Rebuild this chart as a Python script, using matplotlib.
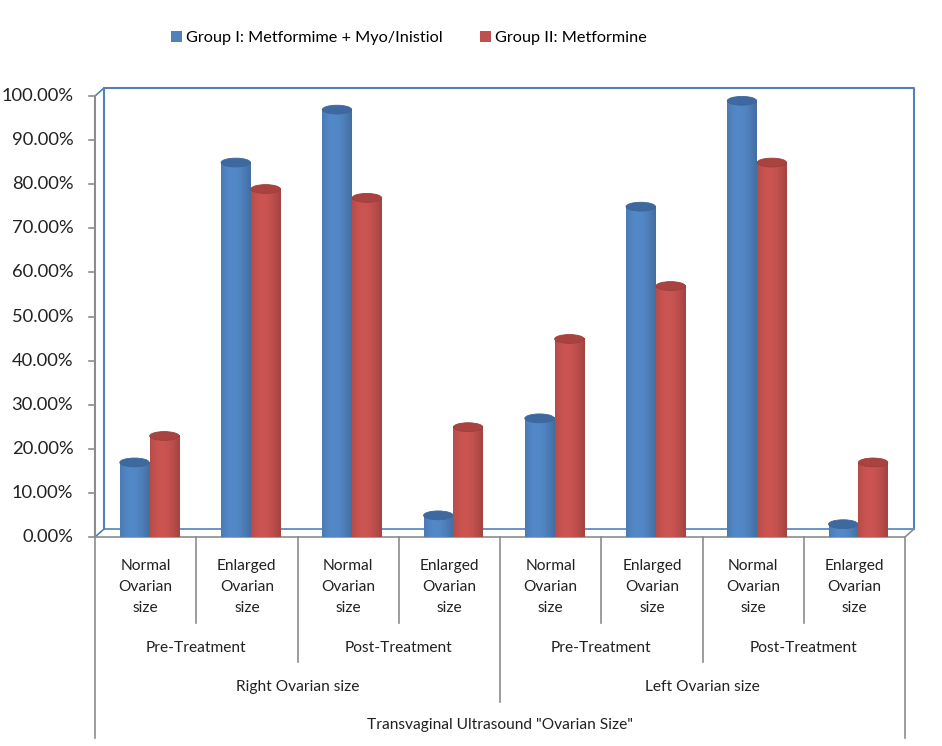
import numpy as np
import matplotlib.pyplot as plt
import matplotlib.transforms as mtransforms
from matplotlib.patches import Polygon, Ellipse, Patch
from matplotlib.lines import Line2D

plt.rcParams['font.family'] = ['Lato', 'DejaVu Sans']

# data
subcats = ['Normal\nOvarian\nsize', 'Enlarged\nOvarian\nsize'] * 4
phases = ['Pre-Treatment', 'Post-Treatment'] * 2
sides = ['Right Ovarian size', 'Left Ovarian size']
main_label = 'Transvaginal Ultrasound "Ovarian Size"'
group1 = [16, 84, 96, 4, 26, 74, 98, 2]
group2 = [22, 78, 76, 24, 44, 56, 84, 16]
series_names = ['Group I: Metformime + Myo/Inistiol', 'Group II: Metformine']
yticks = np.arange(0, 101, 10)

W, H = 942, 746
fig = plt.figure(figsize=(W / 100, H / 100), dpi=100)
ax = fig.add_axes([95 / W, 1 - 537 / H, 810 / W, 441 / H])
ax.set_xlim(0, 8)
ax.set_ylim(0, 100)
ax.axis('off')

# 3d depth offset in data units
dx = 9 / 810 * 8
dy = 8 / 441 * 100
wall = '#4F81BD'
grey = '#8C8C8C'

# back wall + floor
ax.plot([dx, dx, 8 + dx, 8 + dx], [dy, 100 + dy, 100 + dy, dy], color=wall, lw=1.5, clip_on=False)
ax.plot([0, dx, 8 + dx], [0, dy, dy], color=wall, lw=1.2, clip_on=False)
ax.plot([0, dx], [100, 100 + dy], color=wall, lw=1.2, clip_on=False)
ax.plot([0, 0], [0, 100], color=grey, lw=1.5, clip_on=False)
ax.plot([0, 8, 8 + dx], [0, 0, dy], color=grey, lw=1.2, clip_on=False)
for t in yticks:
    ax.plot([-0.055, 0], [t, t], color=grey, lw=1.2, clip_on=False)
    ax.text(-0.215, t, f'{t:.2f}%', ha='right', va='center', fontsize=13.2, color='#222222')


def shade(rgb, n=60):
    t = np.linspace(0, 1, n)
    f = 0.90 + 0.16 * np.cos(np.pi * (t - 0.4))
    c = np.clip(np.array(rgb)[None, :] * f[:, None], 0, 255) / 255
    return c[None, :, :]


def cylinder(xc, val, rgb, top_rgb, z):
    w = 0.29
    eh = 2.0
    base = dy / 2
    top = base + val
    x0, x1 = xc - w / 2, xc + w / 2
    th = np.linspace(0, -np.pi, 40)
    pts = [(x0, top), (x1, top)] + [(xc + w / 2 * np.cos(a), base + eh / 2 * np.sin(a)) for a in th]
    body = Polygon(pts, closed=True, facecolor='none', edgecolor='none')
    ax.add_patch(body)
    im = ax.imshow(shade(rgb), extent=[x0, x1, base - eh / 2, top], aspect='auto',
                   interpolation='bilinear', zorder=z, clip_on=False)
    im.set_clip_path(body)
    ax.add_patch(Ellipse((xc, top), w, eh, facecolor=np.array(top_rgb) / 255,
                         edgecolor=np.array(rgb) / 255 * 0.8, lw=0.6, zorder=z + 0.1))


for i in range(8):
    cylinder(i + 0.39, group1[i], (79, 129, 189), (62, 104, 160), 3)
    cylinder(i + 0.685, group2[i], (192, 80, 77), (170, 66, 63), 4)

ax.set_xlim(0, 8)
ax.set_ylim(0, 100)

# multi-level category axis
tr = mtransforms.blended_transform_factory(ax.transData, fig.transFigure)


def fy(py):
    return 1 - py / H


def vline(x, y1, y2):
    fig.add_artist(Line2D([x, x], [fy(y1), fy(y2)], color=grey, lw=1.2, transform=tr))


for i in range(9):
    if i in (0, 8):
        vline(i, 537, 738)
    elif i == 4:
        vline(i, 537, 702)
    elif i % 2 == 0:
        vline(i, 537, 662)
    else:
        vline(i, 537, 623)

lab_kw = dict(transform=tr, ha='center', va='center', fontsize=11.2, color='#222222')
for i, lab in enumerate(subcats):
    fig.text(i + 0.5, fy(587), lab, linespacing=1.65, **lab_kw)
for i, lab in enumerate(phases):
    fig.text(2 * i + 1, fy(648), lab, **lab_kw)
for i, lab in enumerate(sides):
    fig.text(4 * i + 2, fy(687), lab, **lab_kw)
fig.text(4, fy(725), main_label, **lab_kw)

handles = [Patch(facecolor='#4F81BD'), Patch(facecolor='#C0504D')]
fig.legend(handles, series_names, loc='center', bbox_to_anchor=(409 / W, fy(38)), ncol=2,
           frameon=False, fontsize=11.7, handlelength=0.65, handleheight=0.65,
           handletextpad=0.25, columnspacing=2.3)

fig.savefig('out.png', dpi=100)
